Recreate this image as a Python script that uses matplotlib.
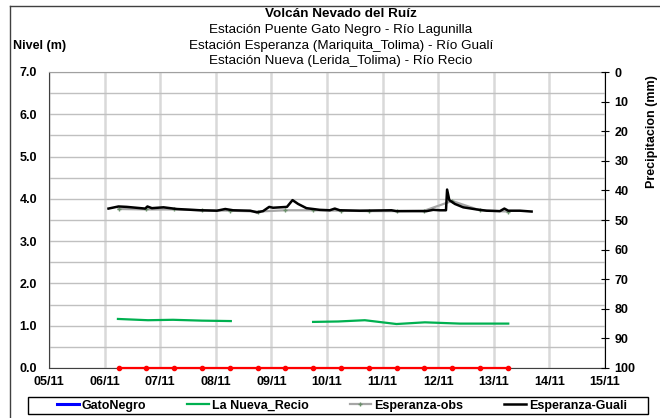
import matplotlib.pyplot as plt
from matplotlib.lines import Line2D
from matplotlib.patches import Rectangle

plt.rcParams['font.family'] = ['Liberation Sans', 'DejaVu Sans']

# x in days counted from 05/11 00:00
day_labels = ['05/11', '06/11', '07/11', '08/11', '09/11', '10/11',
              '11/11', '12/11', '13/11', '14/11', '15/11']

# Esperanza-Guali (black, fine sampling)
guali_t = [1.07, 1.25, 1.40, 1.73, 1.77, 1.85, 2.06, 2.30, 2.72, 3.02, 3.17,
           3.31, 3.62, 3.74, 3.85, 3.96, 4.03, 4.28, 4.38, 4.48, 4.63, 4.87,
           5.05, 5.14, 5.23, 5.59, 6.16, 6.25, 6.79, 6.91, 7.03, 7.14, 7.16,
           7.20, 7.30, 7.45, 7.69, 7.87, 8.11, 8.19, 8.26, 8.47, 8.68]
guali_v = [3.77, 3.82, 3.81, 3.77, 3.82, 3.78, 3.80, 3.76, 3.73, 3.72, 3.76,
           3.73, 3.72, 3.68, 3.71, 3.81, 3.79, 3.81, 3.97, 3.88, 3.78, 3.74,
           3.73, 3.77, 3.73, 3.72, 3.73, 3.71, 3.71, 3.74, 3.73, 3.73, 4.22,
           3.97, 3.88, 3.80, 3.75, 3.72, 3.71, 3.77, 3.72, 3.72, 3.70]

# Esperanza-obs and the red series at zero, every 12 h
obs_t = [1.25, 1.75, 2.25, 2.75, 3.25, 3.75, 4.25, 4.75, 5.25, 5.75, 6.25,
         6.75, 7.25, 7.75, 8.25]
obs_v = [3.76, 3.75, 3.75, 3.73, 3.72, 3.70, 3.73, 3.73, 3.72, 3.71, 3.71,
         3.72, 3.95, 3.73, 3.70]
red_v = [0, 0, 0, 0, 0, 0, 0, 0, 0, 0, 0, 0, 0, 0, 0]

# La Nueva_Recio (green), two pieces
recio1_t = [1.24, 1.78, 2.23, 2.75, 3.27]
recio1_v = [1.16, 1.13, 1.14, 1.12, 1.11]
recio2_t = [4.75, 5.20, 5.68, 6.25, 6.76, 7.39, 8.26]
recio2_v = [1.09, 1.10, 1.13, 1.04, 1.08, 1.05, 1.05]

gato_t = []
gato_v = []

fig = plt.figure(figsize=(6.6, 4.18), dpi=100)
ax = fig.add_axes([49 / 660, 1 - 368 / 418, 556 / 660, 296 / 418])

ax.plot(gato_t, gato_v, color='#0000ff', lw=2.2, label='GatoNegro')
ax.plot(recio1_t, recio1_v, color='#00b050', lw=1.6, label='La Nueva_Recio')
ax.plot(recio2_t, recio2_v, color='#00b050', lw=1.6)
ax.plot(obs_t, obs_v, color='#a6a6a6', lw=1.6, marker='+', ms=3,
        mec='#6b8f6b', label='Esperanza-obs')
ax.plot(guali_t, guali_v, color='black', lw=1.8, label='Esperanza-Guali')
ax.plot(obs_t, red_v, color='#ff0000', lw=1.6, marker='o', ms=3,
        mec='#ff0000', mfc='#ff0000', clip_on=False, zorder=5)

ax.set_xlim(0, 10)
ax.set_ylim(0, 7)
ax.set_xticks(range(11))
ax.set_xticklabels(day_labels, fontweight='bold', fontsize=9)
ax.set_yticks([0, 1, 2, 3, 4, 5, 6, 7])
ax.set_yticklabels(['%.1f' % v for v in range(8)], fontweight='bold', fontsize=9)
ax.set_yticks([0.5 * i for i in range(15)], minor=True)
ax.tick_params(axis='y', which='both', length=0, pad=8.5)
ax.tick_params(axis='x', which='both', length=0, pad=6)
ax.grid(axis='y', which='both', color='#c0c0c0', lw=1)
ax.grid(axis='x', which='major', color='#d9d9d9', lw=1.8)
ax.set_axisbelow(True)
for s in ['left', 'bottom']:
    ax.spines[s].set_color('#404040')
ax.spines['top'].set_color('#a0a0a0')
ax.spines['right'].set_visible(False)

ax2 = ax.twinx()
ax2.set_ylim(100, 0)
ax2.set_yticks(range(0, 101, 10))
ax2.set_yticklabels([str(v) for v in range(0, 101, 10)], fontweight='bold', fontsize=9)
ax2.tick_params(axis='y', direction='inout', length=6, pad=4)
ax2.spines['right'].set_color('black')
for s in ['left', 'top', 'bottom']:
    ax2.spines[s].set_visible(False)

fig.text(341 / 660, 1 - 14 / 418, 'Volcán Nevado del Ruíz', ha='center', va='center',
         fontsize=9.7, fontweight='bold')
fig.text(341 / 660, 1 - 30 / 418, 'Estación Puente Gato Negro - Río Lagunilla',
         ha='center', va='center', fontsize=9.7)
fig.text(341 / 660, 1 - 46 / 418, 'Estación Esperanza (Mariquita_Tolima) - Río Gualí',
         ha='center', va='center', fontsize=9.7)
fig.text(341 / 660, 1 - 61 / 418, 'Estación Nueva (Lerida_Tolima) - Río Recio',
         ha='center', va='center', fontsize=9.7)
fig.text(13 / 660, 1 - 46 / 418, 'Nivel (m)', ha='left', va='center',
         fontsize=9, fontweight='bold')
fig.text(652 / 660, 1 - 132 / 418, 'Precipitacion (mm)', ha='center', va='center',
         rotation=90, fontsize=9, fontweight='bold')

leg = ax.legend(loc='center', bbox_to_anchor=(342 / 660, 1 - 405.5 / 418),
                bbox_transform=fig.transFigure, ncol=4, frameon=False,
                fontsize=9, handlelength=1.7, handletextpad=0.25,
                columnspacing=3.3, borderaxespad=0, borderpad=0)
for t in leg.get_texts():
    t.set_fontweight('bold')
fig.add_artist(Rectangle((28 / 660, 1 - 414 / 418), 620 / 660, 17 / 418,
                         transform=fig.transFigure, fill=False,
                         edgecolor='black', lw=1))

# outer chart frame (left and top edges show in the picture)
fig.add_artist(Line2D([10 / 660, 10 / 660], [0, 1 - 6 / 418], color='#404040', lw=1))
fig.add_artist(Line2D([10 / 660, 1], [1 - 6 / 418, 1 - 6 / 418], color='#404040', lw=1))

fig.savefig('out.png', dpi=100)
